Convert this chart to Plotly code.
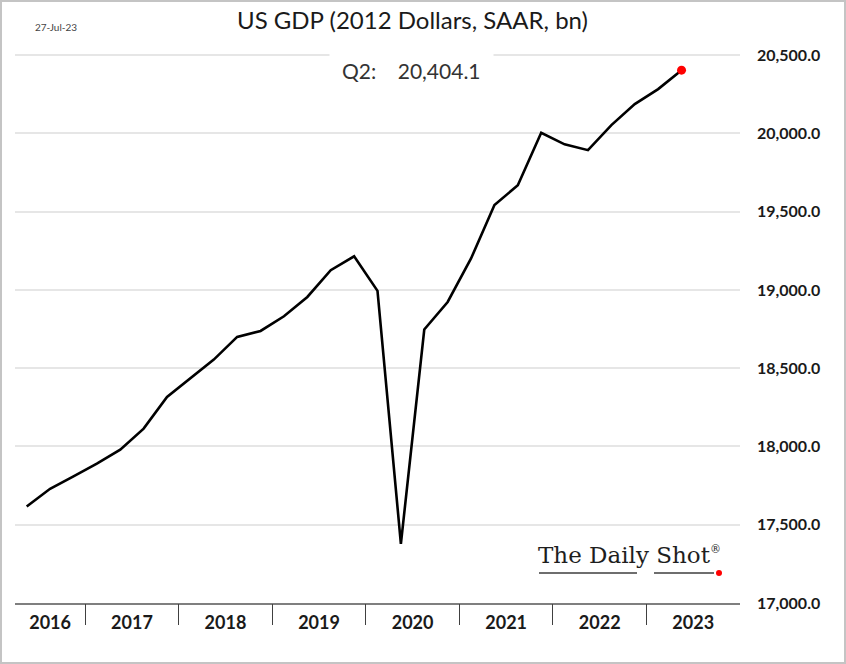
import plotly.graph_objects as go

# quarterly real GDP, 2016Q2 .. 2023Q2 (2012 dollars, SAAR, bn)
quarters = [
    "2016Q2", "2016Q3", "2016Q4",
    "2017Q1", "2017Q2", "2017Q3", "2017Q4",
    "2018Q1", "2018Q2", "2018Q3", "2018Q4",
    "2019Q1", "2019Q2", "2019Q3", "2019Q4",
    "2020Q1", "2020Q2", "2020Q3", "2020Q4",
    "2021Q1", "2021Q2", "2021Q3", "2021Q4",
    "2022Q1", "2022Q2", "2022Q3", "2022Q4",
    "2023Q1", "2023Q2",
]
gdp = [
    17617, 17730, 17809,
    17890, 17980, 18114, 18316,
    18433, 18555, 18700, 18738,
    18832, 18955, 19126, 19215,
    18994, 17378, 18747, 18923,
    19201, 19542, 19669, 20004,
    19930, 19893, 20053, 20187,
    20283, 20404.1,
]
years = [2016, 2017, 2018, 2019, 2020, 2021, 2022, 2023]
y_ticks = [17000, 17500, 18000, 18500, 19000, 19500, 20000, 20500]

# centre each quarter inside its year
x = [int(q[:4]) + (int(q[-1]) - 1) / 4 + 0.125 for q in quarters]
x_lo, x_hi = x[0] - 0.125, years[-1] + 1
label_pos = [(max(y, x_lo) + y + 1) / 2 for y in years]

W, H = 846, 664
ML, MR, MT, MB = 15, 106, 52, 61
PW, PH = W - ML - MR, H - MT - MB


def px(xp):
    return (xp - ML) / PW


def py(yp):
    return (H - MB - yp) / PH


FONT = "Lato"


def note(text, xp, yp, size, color="#1a1a1a", family=FONT, **kw):
    return dict(text=text, xref="paper", yref="paper", x=px(xp), y=py(yp),
                xanchor="center", yanchor="middle", showarrow=False,
                font=dict(size=size, family=family, color=color), **kw)


fig = go.Figure()
fig.add_trace(go.Scatter(
    x=x, y=gdp, mode="lines",
    line=dict(color="black", width=2.6),
    showlegend=False, hoverinfo="skip",
))
fig.add_trace(go.Scatter(
    x=[x[-1]], y=[gdp[-1]], mode="markers",
    marker=dict(color="#ff0000", size=9),
    showlegend=False, hoverinfo="skip",
))
# invisible trace to anchor the year-boundary tick axis
fig.add_trace(go.Scatter(
    x=[x_lo, x_hi], y=[gdp[0], gdp[0]], xaxis="x2", mode="lines",
    line=dict(width=0), showlegend=False, hoverinfo="skip",
))

fig.update_layout(
    width=W, height=H,
    margin=dict(l=ML, r=MR, t=MT, b=MB),
    plot_bgcolor="white", paper_bgcolor="white",
    font=dict(family=FONT, color="#1a1a1a"),
    xaxis=dict(
        range=[x_lo, x_hi], tickmode="array",
        tickvals=label_pos, ticktext=[str(y) for y in years],
        ticks="", showgrid=False, zeroline=False,
        showline=True, linecolor="#7f7f7f", linewidth=2,
        tickfont=dict(size=18, family=FONT, weight="bold", color="#1a1a1a"),
        ticklabelstandoff=2,
    ),
    xaxis2=dict(
        range=[x_lo, x_hi], overlaying="x", side="bottom",
        tickmode="array", tickvals=years[1:], ticktext=[""] * (len(years) - 1),
        ticks="outside", ticklen=21, tickwidth=1, tickcolor="#404040",
        showgrid=False, zeroline=False, showline=False,
    ),
    yaxis=dict(
        range=[y_ticks[0], y_ticks[-1] + 20], side="right",
        tickmode="array", tickvals=y_ticks, tickformat=",.1f",
        showgrid=True, gridcolor="#e6e6e6", gridwidth=1.5,
        zeroline=False, ticks="",
        tickfont=dict(size=16, family=FONT, weight="bold", color="#1a1a1a"),
        ticklabelstandoff=16,
    ),
    annotations=[
        note("US GDP (2012 Dollars, SAAR, bn)", 412, 19, 24),
        note("27-Jul-23", 56, 27, 10, color="#444444"),
        note("Q2:" + "\u00a0" * 4 + f"{gdp[-1]:,.1f}", 411, 71, 21,
             color="#333333", bgcolor="white", borderpad=12),
        note("The Daily Shot<sup><span style='font-size:11px'>®</span></sup>",
             629, 555, 23, color="#1e1e1e", family="DejaVu Serif"),
    ],
    shapes=[
        dict(type="line", xref="paper", yref="paper",
             x0=px(539), x1=px(637), y0=py(573), y1=py(573),
             line=dict(color="#6e6e6e", width=2)),
        dict(type="line", xref="paper", yref="paper",
             x0=px(654), x1=px(714), y0=py(573), y1=py(573),
             line=dict(color="#6e6e6e", width=2)),
        dict(type="circle", xref="paper", yref="paper",
             x0=px(716), x1=px(722), y0=py(576), y1=py(570),
             fillcolor="#ff0000", line=dict(width=0)),
        dict(type="rect", xref="paper", yref="paper",
             x0=px(1), x1=px(W - 1), y0=py(H - 1), y1=py(1),
             line=dict(color="#c4c4c4", width=2), layer="above"),
    ],
)

fig.write_html("out.html", config={"displayModeBar": False},
               post_script="document.body.style.margin='0';")
